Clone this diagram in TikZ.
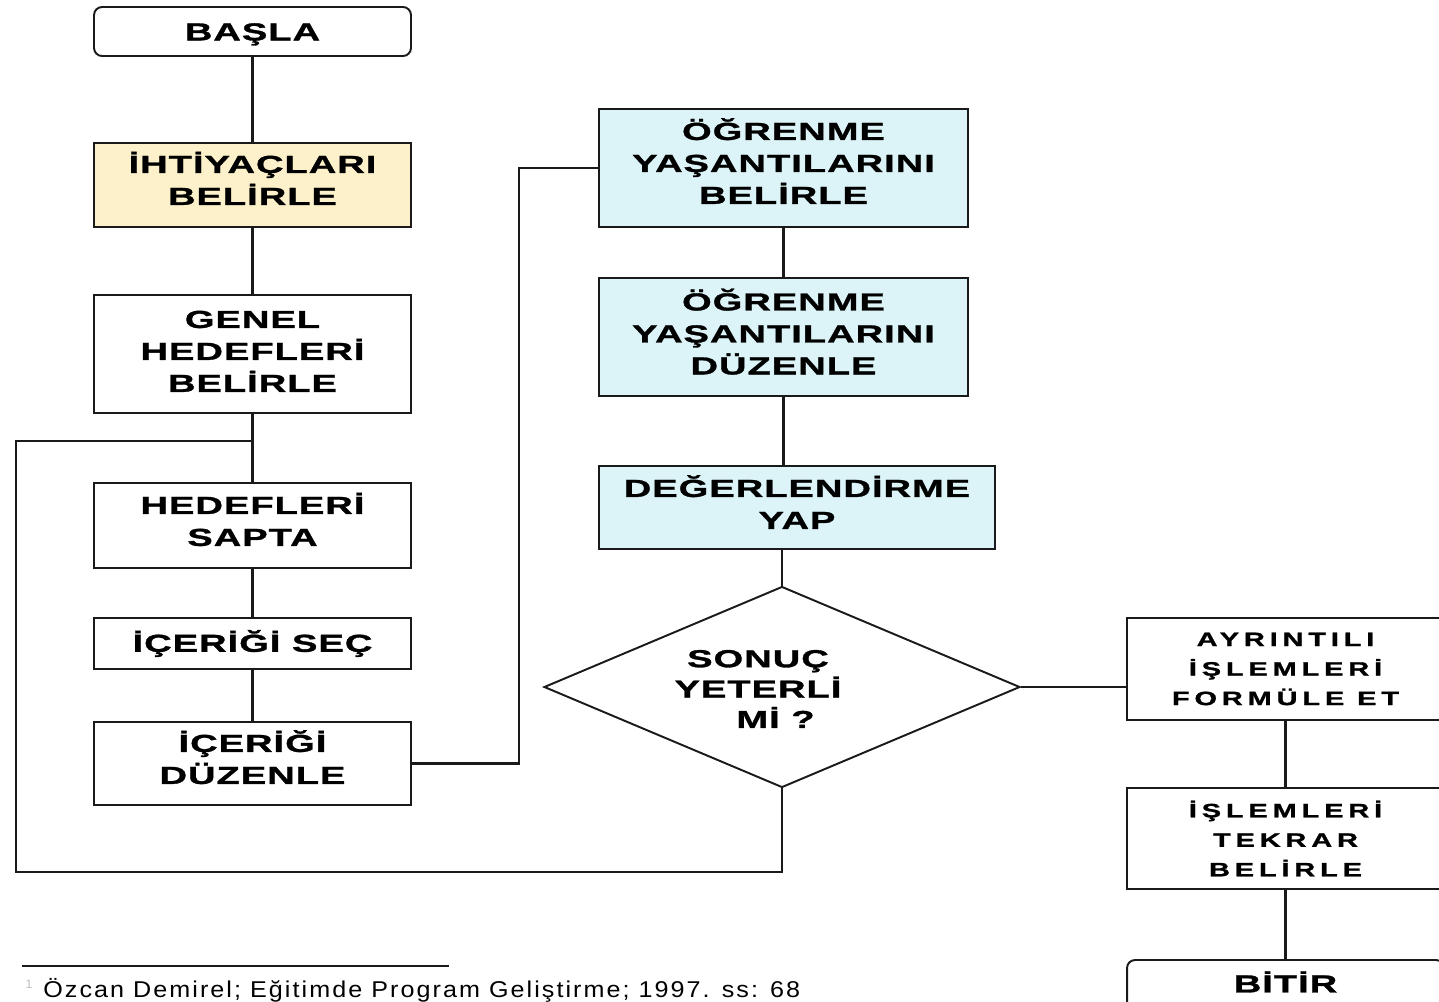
\documentclass[tikz,border=0pt]{standalone}
\usepackage{fontspec}
\setmainfont{Liberation Sans}
\newfontfamily\boxf[FakeStretch=1.55,LetterSpace=4,BoldFeatures={FakeBold=1.2}]{Liberation Sans}
\newfontfamily\smallf[FakeStretch=1.5,LetterSpace=25,BoldFeatures={FakeBold=1.2}]{Liberation Sans}
\newfontfamily\notef[FakeStretch=1.1,LetterSpace=9]{Liberation Sans}
\usetikzlibrary{shapes.geometric}
\definecolor{lyellow}{HTML}{FCF1CA}
\definecolor{lcyan}{HTML}{DCF4F8}
\definecolor{lineblk}{HTML}{1A1A1A}
\newcommand\ml[2]{\raisebox{#1}[\height][\depth]{\begin{tabular}{@{}c@{}}#2\end{tabular}}}
\tikzset{
  mainbox/.style={draw=lineblk, line width=1.1pt, fill=white, align=center, inner sep=0pt,
    minimum width=6.34cm, font={\boxf\bfseries\fontsize{14}{18.2}\selectfont}},
  startbox/.style={mainbox, rounded corners=0.16cm},
  bluebox/.style={mainbox, fill=lcyan, minimum width=7.38cm},
  smallbox/.style={mainbox, font={\smallf\bfseries\fontsize{11}{16.8}\selectfont}},
  decision/.style={draw=lineblk, line width=1.1pt, fill=white, diamond, inner sep=0pt,
    minimum width=9.52cm, minimum height=4.02cm},
  plaintext/.style={align=center, inner sep=0pt, font={\boxf\bfseries\fontsize{14}{17.3}\selectfont}},
  conn/.style={draw=lineblk, line width=1.2pt}
}
\begin{document}
\begin{tikzpicture}[x=0.02cm,y=-0.02cm]
\useasboundingbox (0,0) rectangle (1439,1001);
\clip (0,0) rectangle (1439,1001);
\fill[white] (0,0) rectangle (1439,1001);

% left column
\node[startbox, minimum height=0.98cm] (basla) at (252.5,31.5) {\ml{-0.05cm}{BAŞLA}};
\node[mainbox, fill=lyellow, minimum height=1.68cm] (ihti) at (252.5,185) {\ml{0.05cm}{İHTİYAÇLARI\\BELİRLE}};
\node[mainbox, minimum height=2.36cm] (genel) at (252.5,354) {\ml{0.01cm}{GENEL\\HEDEFLERİ\\BELİRLE}};
\node[mainbox, minimum height=1.7cm] (hedef) at (252.5,525.5) {\ml{0.04cm}{HEDEFLERİ\\SAPTA}};
\node[mainbox, minimum height=1.02cm] (sec) at (252.5,643.5) {İÇERİĞİ SEÇ};
\node[mainbox, minimum height=1.66cm] (duz) at (252.5,763.5) {\ml{0.04cm}{İÇERİĞİ\\DÜZENLE}};

% middle column
\node[bluebox, minimum height=2.36cm] (ogr1) at (783.5,168) {\ml{0.05cm}{ÖĞRENME\\YAŞANTILARINI\\BELİRLE}};
\node[bluebox, minimum height=2.36cm] (ogr2) at (783.5,337) {\ml{0.02cm}{ÖĞRENME\\YAŞANTILARINI\\DÜZENLE}};
\node[bluebox, minimum width=7.92cm, minimum height=1.66cm] (deg) at (797,507.5) {\ml{0.02cm}{DEĞERLENDİRME\\YAP}};
\node[decision] (dec) at (782,687) {};
\node[plaintext] (dectxt) at (758,689) {SONUÇ\\YETERLİ\\\hspace*{0.7cm}Mİ ?};

% right column
\node[smallbox, minimum height=2.04cm] (ayr) at (1285.5,669) {AYRINTILI\\İŞLEMLERİ\\FORMÜLE ET};
\node[smallbox, minimum height=2.02cm] (tek) at (1285.5,838.5) {İŞLEMLERİ\\TEKRAR\\BELİRLE};
\node[startbox, minimum height=0.98cm] (bitir) at (1285.5,984.5) {\ml{-0.03cm}{BİTİR}};

% connectors
\draw[conn] (basla) -- (ihti);
\draw[conn] (ihti) -- (genel);
\draw[conn] (genel) -- (hedef);
\draw[conn] (hedef) -- (sec);
\draw[conn] (sec) -- (duz);
\draw[conn] (duz.east) -- ++(107,0) |- (ogr1.west);
\draw[conn] (ogr1) -- (ogr2);
\draw[conn] (ogr2.south) -- (ogr2.south |- deg.north);
\draw[conn] (deg.south -| dec.north) -- (dec.north);
\draw[conn] (dec.east) -- (dec.east -| ayr.west);
\draw[conn] (ayr) -- (tek);
\draw[conn] (tek) -- (bitir);
\coordinate (lj) at (253,441);
\coordinate (lbl) at (16,872);
\draw[conn] (dec.south) |- (lbl) |- (lj);

% footnote
\draw[draw=lineblk, line width=1pt] (22,966) -- (449,966);
\node[inner sep=0pt, text=black!25, font={\fontsize{7}{8}\selectfont}] (mark) at (29,984) {1};
\node[anchor=west, inner sep=0pt, font={\notef\fontsize{13}{15}\selectfont}] (note) at (43,990) {Özcan Demirel; Eğitimde Program Geliştirme; 1997. ss: 68};
\end{tikzpicture}
\end{document}
